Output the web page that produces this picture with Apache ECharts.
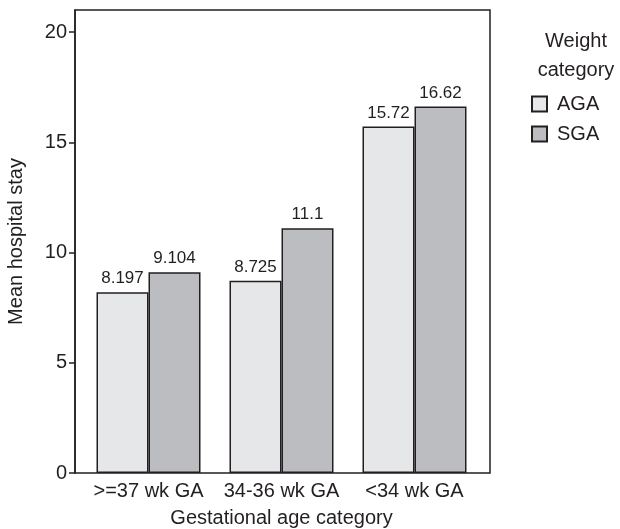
<!DOCTYPE html>
<html>
<head>
<meta charset="utf-8">
<script src="https://cdn.jsdelivr.net/npm/echarts@6/dist/echarts.min.js"></script>
<style>html,body{margin:0;padding:0;background:#fff;}#c{width:620px;height:529px;}</style>
</head>
<body>
<div id="c"></div>
<script>
const categories = ['>=37 wk GA', '34-36 wk GA', '<34 wk GA'];
const agaValues = [8.197, 8.725, 15.72];
const sgaValues = [9.104, 11.1, 16.62];
const yTicks = [0, 5, 10, 15, 20];
const seriesNames = ['AGA', 'SGA'];

const ink = '#231f20';
const font = '"Liberation Sans", Arial, sans-serif';
const chart = echarts.init(document.getElementById('c'), null, {renderer: 'canvas'});
chart.setOption({
  animation: false,
  backgroundColor: '#fff',
  title: {
    text: 'Weight\ncategory',
    left: 571, top: 22, textAlign: 'center',
    textStyle: {fontFamily: font, fontSize: 20, fontWeight: 'normal', color: ink, lineHeight: 29}
  },
  legend: {
    orient: 'vertical', left: 526, top: 89,
    itemWidth: 15, itemHeight: 15, itemGap: 10,
    icon: 'rect',
    data: seriesNames,
    textStyle: {fontFamily: font, fontSize: 20, color: ink, padding: [0, 0, 0, 5]}
  },
  grid: [
    {left: 75, top: 10, width: 415, height: 463, show: true, borderColor: ink, borderWidth: 1.5, backgroundColor: 'transparent', outerBoundsMode: 'none', containLabel: false},
    {left: 82, top: 10, width: 399, height: 463, outerBoundsMode: 'none', containLabel: false}
  ],
  xAxis: [
    {type: 'category', gridIndex: 0, data: categories, show: false},
    {type: 'category', gridIndex: 1, data: categories,
     axisLine: {show: false}, axisTick: {show: false},
     axisLabel: {fontFamily: font, fontSize: 20, color: ink, margin: 8, interval: 0},
     name: 'Gestational age category', nameLocation: 'middle', nameGap: 35,
     nameTextStyle: {fontFamily: font, fontSize: 20, color: ink}}
  ],
  yAxis: [
    {type: 'value', gridIndex: 0, min: 0, max: 21, interval: 5,
     splitLine: {show: false},
     axisLine: {show: true, lineStyle: {color: ink, width: 1.5}},
     axisTick: {show: true, length: 6, customValues: yTicks, lineStyle: {color: ink, width: 1.5}},
     axisLabel: {fontFamily: font, fontSize: 20, color: ink, margin: 8, customValues: yTicks},
     name: 'Mean hospital stay', nameLocation: 'middle', nameGap: 49,
     nameTextStyle: {fontFamily: font, fontSize: 20, color: ink}},
    {type: 'value', gridIndex: 1, min: 0, max: 21, show: false}
  ],
  series: [
    {name: 'AGA', type: 'bar', xAxisIndex: 1, yAxisIndex: 1, data: agaValues,
     barWidth: 52, barGap: '0%',
     itemStyle: {color: '#e6e7e8', borderColor: ink, borderWidth: 1.5},
     label: {show: true, position: 'top', distance: 5, fontFamily: font, fontSize: 17, color: ink}},
    {name: 'SGA', type: 'bar', xAxisIndex: 1, yAxisIndex: 1, data: sgaValues,
     barWidth: 52, barGap: '0%',
     itemStyle: {color: '#bcbdc0', borderColor: ink, borderWidth: 1.5},
     label: {show: true, position: 'top', distance: 5, fontFamily: font, fontSize: 17, color: ink}}
  ]
});
</script>
</body>
</html>
